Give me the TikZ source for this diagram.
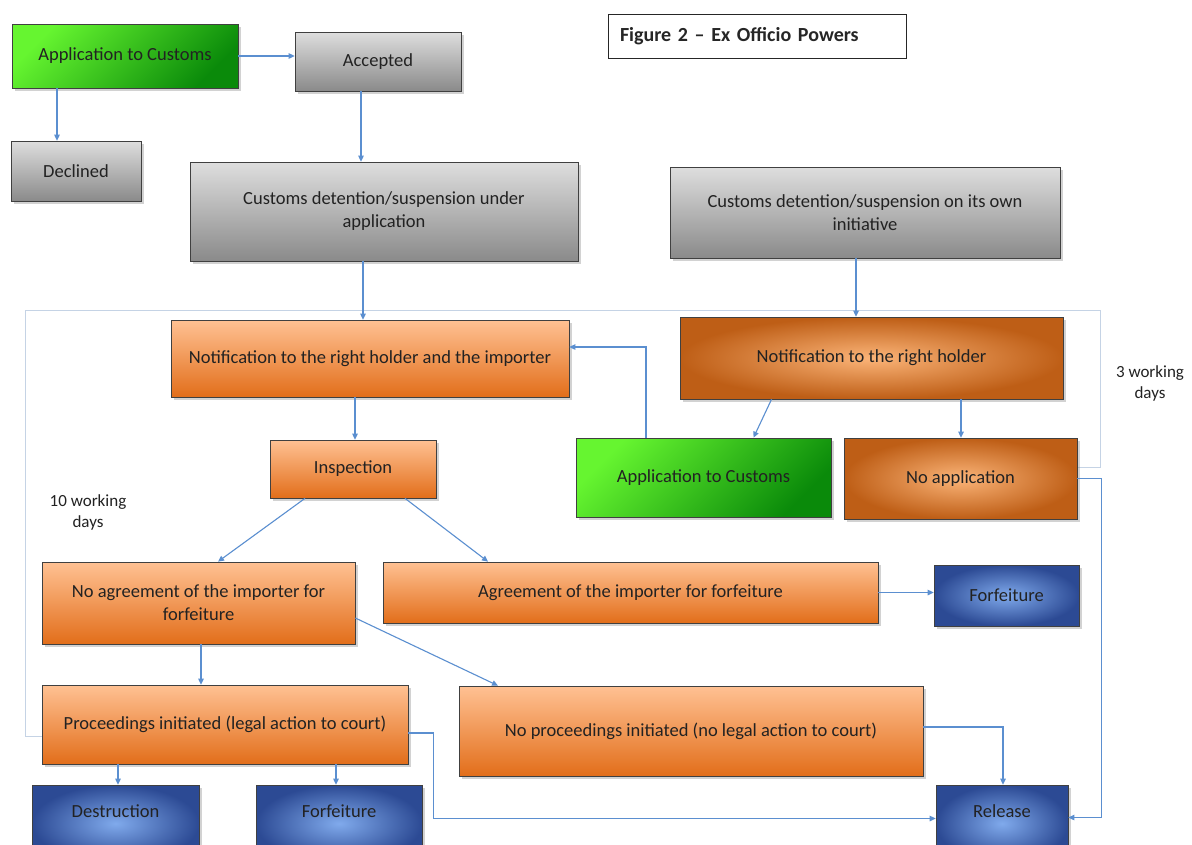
\documentclass[tikz,border=0pt]{standalone}
\usepackage{fontspec}
\setmainfont{Carlito}
\usetikzlibrary{arrows.meta,shadows,calc}
\definecolor{conn}{HTML}{5B8FD0}
\definecolor{framec}{HTML}{C5D3E5}
\definecolor{txt}{HTML}{222222}
\definecolor{boxline}{HTML}{404040}
\definecolor{grnL}{HTML}{66F530}
\definecolor{grnD}{HTML}{0A8A0A}
\definecolor{gryL}{HTML}{DEDEDE}
\definecolor{gryD}{HTML}{8A8A8A}
\definecolor{orL}{HTML}{FFC193}
\definecolor{orD}{HTML}{E26E1A}
\definecolor{dorL}{HTML}{FBB478}
\definecolor{dorD}{HTML}{BE5E16}
\definecolor{bluL}{HTML}{80AAEC}
\definecolor{bluD}{HTML}{2C4A94}
\begin{document}
\begin{tikzpicture}[x=1pt,y=-1pt,
  box/.style={draw=boxline, line width=0.7pt, inner sep=0pt, align=center, text=txt,
    font=\fontsize{18.5}{23}\selectfont,
    drop shadow={shadow xshift=2.5pt, shadow yshift=-2.5pt, opacity=0.35}},
  greenbox/.style={box, top color=grnL, bottom color=grnD, shading angle=45},
  graybox/.style={box, top color=gryL, bottom color=gryD},
  orbox/.style={box, top color=orL, bottom color=orD},
  dorbox/.style={box, shading=radial, inner color=dorL, outer color=dorD},
  blubox/.style={box, shading=radial, inner color=bluL, outer color=bluD},
  bottombox/.style={blubox, inner ysep=0pt, text height=32pt, text depth=45pt},
  arr/.style={draw=conn, line width=1.1pt, -{Triangle[length=6pt,width=5.5pt]}},
  frameline/.style={draw=framec, line width=0.9pt},
  lbl/.style={align=center, text=txt, font=\fontsize{17}{21}\selectfont, inner sep=0pt}
]
\useasboundingbox (0,0) rectangle (1192,844);
\fill[white] (0,0) rectangle (1192,844);

% bracket frame lines
\draw[frameline] (42,736) -- (25,736) -- (25,310) -- (1100,310) -- (1100,467) -- (1078,467);

% title
\node[draw=black!85, line width=1pt, minimum width=298, minimum height=44, inner xsep=12pt,
  text width=274, align=left, text=black!85, font=\bfseries\fontsize{20}{24}\selectfont]
  (title) at (757,36) {Figure 2 – Ex Officio Powers};

% top part
\node[greenbox, minimum width=226, minimum height=64] (app1) at (125,56) {Application to Customs};
\node[graybox, minimum width=166, minimum height=59] (acc) at (378,61.5) {Accepted};
\node[graybox, minimum width=130, minimum height=60] (dec) at (76,171) {Declined};
\node[graybox, minimum width=388, minimum height=99] (det1) at (384,211.5) {Customs detention/suspension under\\application};
\node[graybox, minimum width=390, minimum height=91] (det2) at (865,212.5) {Customs detention/suspension on its own\\initiative};

% middle part
\node[orbox, minimum width=398, minimum height=77] (n1) at (370,358.5) {Notification to the right holder and the importer};
\node[dorbox, minimum width=383, minimum height=82] (n2) at (871.5,358) {Notification to the right holder};
\node[orbox, minimum width=166, minimum height=58] (insp) at (353,469) {Inspection};
\node[greenbox, minimum width=255, minimum height=79] (appm) at (703.5,477.5) {Application to Customs};
\node[dorbox, minimum width=233, minimum height=81] (noapp) at (960.5,478.5) {No application};

\node[orbox, minimum width=313, minimum height=82] (noag) at (198.5,603) {No agreement of the importer for\\forfeiture};
\node[orbox, minimum width=495, minimum height=61] (agr) at (630.5,592.5) {Agreement of the importer for forfeiture};
\node[blubox, minimum width=145, minimum height=61] (forf1) at (1006.5,595.5) {Forfeiture};

\node[orbox, minimum width=366, minimum height=79] (proc) at (225,724.5) {Proceedings initiated (legal action to court)};
\node[orbox, minimum width=464, minimum height=90] (noproc) at (691,731) {No proceedings initiated (no legal action to court)};

\node[bottombox, minimum width=167] (destr) at (115.5,823.5) {Destruction};
\node[bottombox, minimum width=166] (forf2) at (339,823.5) {Forfeiture};
\node[bottombox, minimum width=132] (rel) at (1002,823.5) {Release};

% labels
\node[lbl] (l3) at (1150,383) {3 working\\days};
\node[lbl] (l10) at (88,512) {10 working\\days};

% connectors
\draw[arr] (app1.east) -- (acc.west |- app1.east);
\draw[arr] ([xshift=-68pt]app1.south) -- ([xshift=-68pt]app1.south |- dec.north);
\draw[arr] ([xshift=-17pt]acc.south) -- ([xshift=-17pt]acc.south |- det1.north);
\draw[arr] ([xshift=-21pt]det1.south) -- ([xshift=-21pt]det1.south |- n1.north);
\draw[arr] ([xshift=-9pt]det2.south) -- ([xshift=-9pt]det2.south |- n2.north);
\draw[arr] ([xshift=-15pt]n1.south) -- ([xshift=-15pt]n1.south |- insp.north);
\draw[arr] ([xshift=-100pt]n2.south) -- ([xshift=50pt]appm.north);
\draw[arr] ([xshift=89.5pt]n2.south) -- ([xshift=89.5pt]n2.south |- noapp.north);
\draw[arr] ([xshift=-57.5pt]appm.north) |- ([yshift=11.5pt]n1.east);
\draw[arr] (noapp.east) -- ++(24,0) |- ([yshift=6pt]rel.east);
\draw[arr] ([xshift=-48pt]insp.south) -- ([xshift=19.5pt]noag.north);
\draw[arr] ([xshift=52pt]insp.south) -- ([xshift=-142.5pt]agr.north);
\draw[arr] (agr.east) -- (forf1.west |- agr.east);
\draw[arr] ([yshift=-15pt]noag.east) -- ([xshift=-193pt]noproc.north);
\draw[arr] ([xshift=2.5pt]noag.south) -- ([xshift=2.5pt]noag.south |- proc.north);
\draw[arr] ([xshift=-107pt]proc.south) -- ([xshift=-107pt]proc.south |- destr.north);
\draw[arr] ([xshift=111pt]proc.south) -- ([xshift=111pt]proc.south |- forf2.north);
\draw[arr] ([yshift=-8.5pt]proc.east) -- ++(25,0) |- ([yshift=5pt]rel.west);
\draw[arr] ([yshift=4pt]noproc.east) -| ([xshift=1pt]rel.north);
\end{tikzpicture}
\end{document}
